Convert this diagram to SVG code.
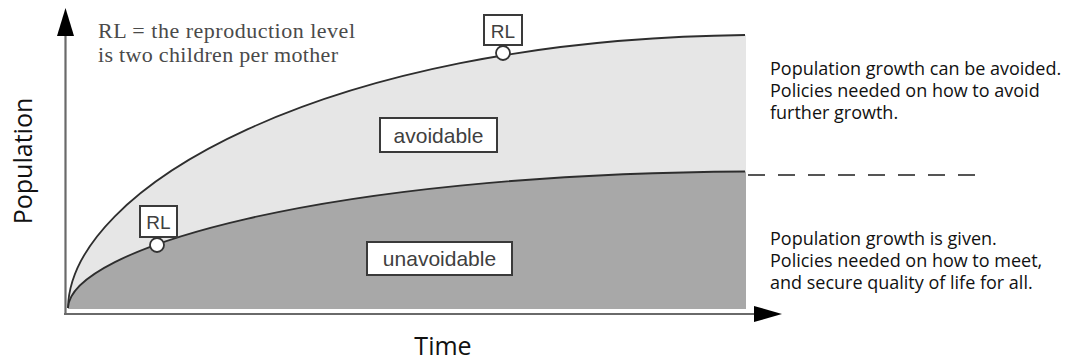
<svg xmlns="http://www.w3.org/2000/svg" width="1067" height="360" viewBox="0 0 1067 360">
  <style>
    .axis { stroke: #6a6a6a; stroke-width: 2.2; fill: none; }
    .curve { stroke: #2e2e2e; stroke-width: 1.8; fill: none; }
    .tag { fill: #ffffff; stroke: #3a3a3a; stroke-width: 2; }
    .tagtext { font-family: "Liberation Sans", Arial, sans-serif; fill: #404040; text-anchor: middle; }
    .note { font-family: "Liberation Serif", "Times New Roman", serif; font-size: 22px; fill: #4a4a4a; }
    .side { font-family: "Open Sans", "Liberation Sans", sans-serif; font-size: 18px; fill: #111; }
    .axlabel { font-family: "Open Sans", "Liberation Sans", sans-serif; font-size: 25px; fill: #111; text-anchor: middle; }
  </style>

  <rect width="1067" height="360" fill="#ffffff"/>

  <!-- shaded areas: total growth (light) and growth already locked in (dark) -->
  <g id="areas">
    <path id="area-avoidable" fill="#e6e6e6"
      d="M68,308 C70,190 320,40 745,35 L746,35 L746,171.5 L745,171.5 C320,174 70,249 68,308 Z"/>
    <path id="area-unavoidable" fill="#a8a8a8"
      d="M68,308 C70,249 320,174 745,171.5 L746,171.5 L746,309 L68,309 Z"/>
  </g>

  <!-- curves, axes and the continuation dash -->
  <g id="connectors">
    <path class="curve" d="M68,308 C70,190 320,40 745,35"/>
    <path class="curve" d="M68,308 C70,249 320,174 745,171.5"/>
    <line x1="748" y1="175" x2="975" y2="175" stroke="#555" stroke-width="2" stroke-dasharray="17 13"/>
    <line class="axis" x1="65.5" y1="315" x2="65.5" y2="34"/>
    <path d="M65.5,8 L74,36 L57,36 Z" fill="#000"/>
    <line class="axis" x1="64" y1="314" x2="757" y2="314"/>
    <path d="M782,314 L754,306 L754,322 Z" fill="#000"/>
  </g>

  <g id="legend-note">
    <text class="note" x="98" y="38" textLength="257" lengthAdjust="spacing">RL = the reproduction level</text>
    <text class="note" x="98" y="62" textLength="240" lengthAdjust="spacing">is two children per mother</text>
  </g>

  <g id="rl-upper">
    <rect class="tag" x="484" y="15" width="38" height="30"/>
    <text class="tagtext" x="503" y="38" font-size="19">RL</text>
    <circle cx="503" cy="53" r="7" fill="#fff" stroke="#333" stroke-width="1.8"/>
  </g>

  <g id="rl-lower">
    <rect class="tag" x="140" y="206" width="37" height="31"/>
    <text class="tagtext" x="158.5" y="229" font-size="19">RL</text>
    <circle cx="157" cy="245" r="7" fill="#fff" stroke="#333" stroke-width="1.8"/>
  </g>

  <g id="label-avoidable">
    <rect class="tag" x="380" y="118" width="117" height="34"/>
    <text class="tagtext" x="438.5" y="143" font-size="21">avoidable</text>
  </g>

  <g id="label-unavoidable">
    <rect class="tag" x="367" y="242" width="145" height="33"/>
    <text class="tagtext" x="439.5" y="266" font-size="21">unavoidable</text>
  </g>

  <g id="text-avoidable">
    <text class="side" x="770" y="75">Population growth can be avoided.</text>
    <text class="side" x="770" y="97">Policies needed on how to avoid</text>
    <text class="side" x="770" y="119">further growth.</text>
  </g>

  <g id="text-unavoidable">
    <text class="side" x="770" y="245">Population growth is given.</text>
    <text class="side" x="770" y="267">Policies needed on how to meet,</text>
    <text class="side" x="770" y="289">and secure quality of life for all.</text>
  </g>

  <g id="axis-labels">
    <text class="axlabel" x="443" y="355">Time</text>
    <text class="axlabel" transform="translate(32,161) rotate(-90)">Population</text>
  </g>
</svg>
